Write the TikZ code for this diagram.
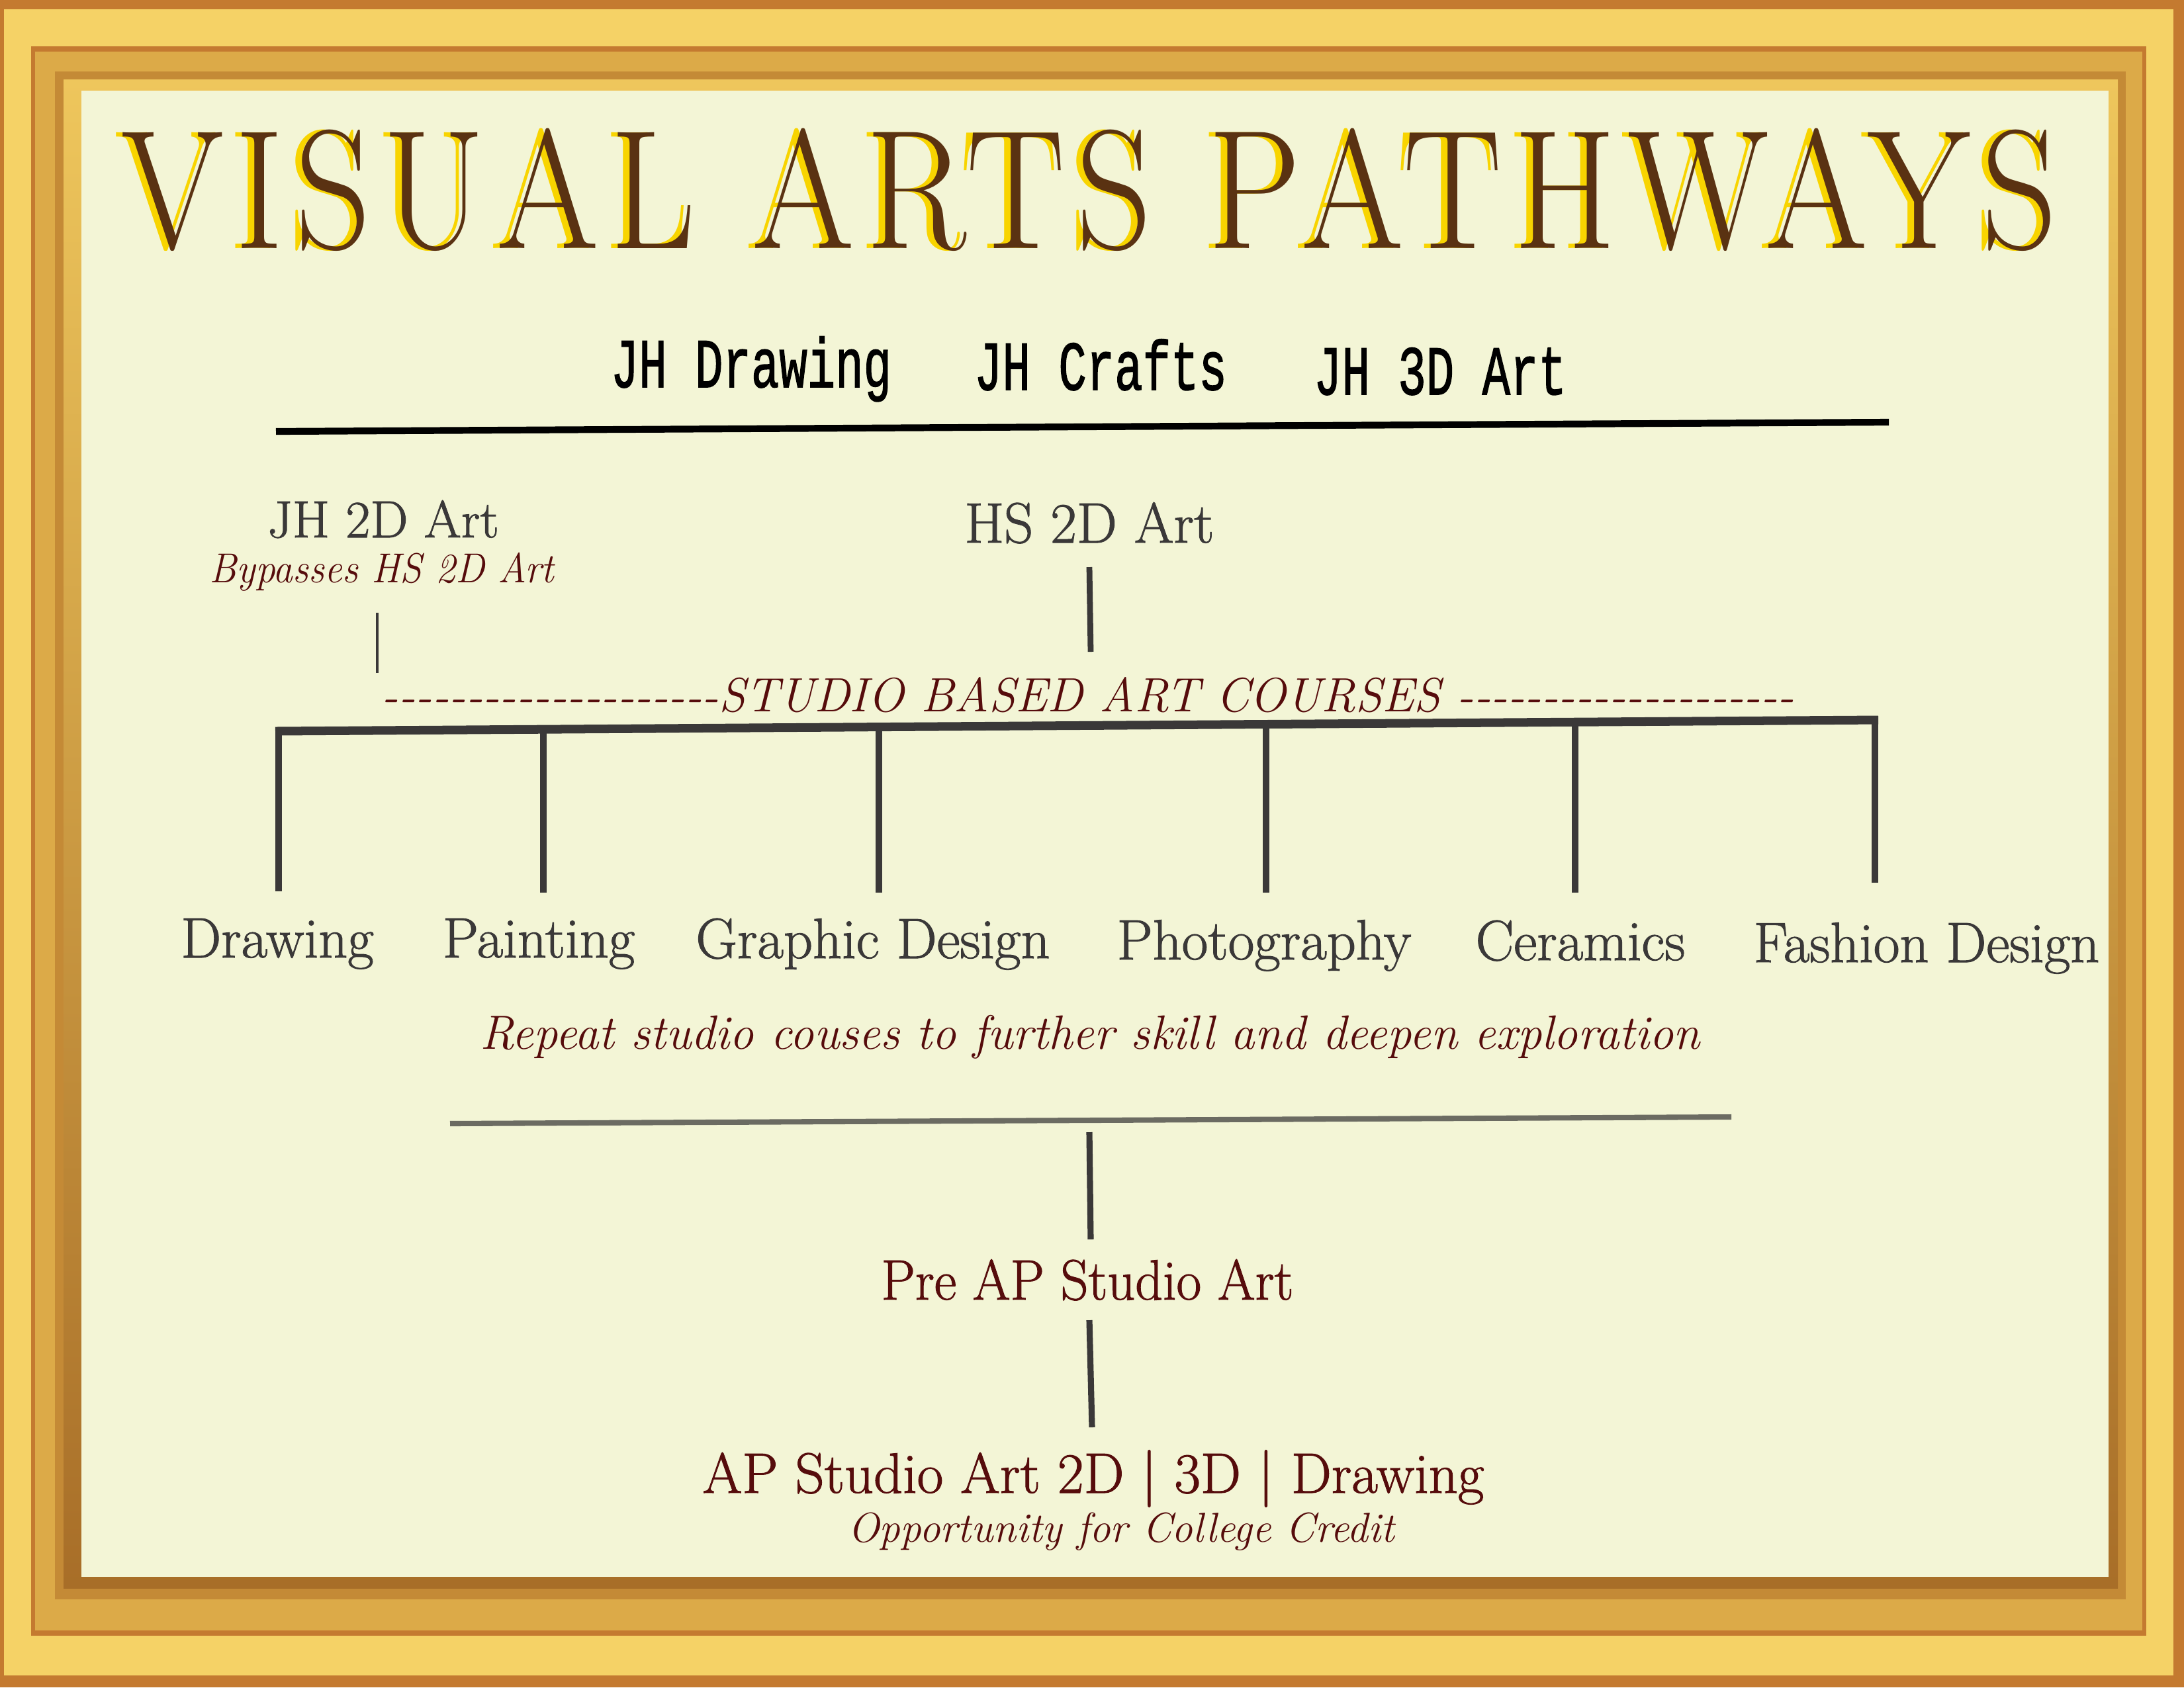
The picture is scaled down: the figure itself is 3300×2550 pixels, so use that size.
\documentclass[tikz,border=0pt]{standalone}
\usepackage{fontspec}
\newfontfamily\monofont[FakeBold=1.6]{Liberation Mono}
\newfontfamily\labelfont[FakeBold=1.2]{Latin Modern Roman}
\newfontfamily\headfont[LetterSpace=7.8]{Latin Modern Roman}
\usetikzlibrary{positioning}

\definecolor{cream}{HTML}{F3F5D6}
\definecolor{frameedge}{HTML}{C47A30}
\definecolor{framelight}{HTML}{F5D266}
\definecolor{framemid}{HTML}{DCAA48}
\definecolor{framedark}{HTML}{C48A36}
\definecolor{framebevel}{HTML}{EEC65C}
\definecolor{framebottom}{HTML}{A86E28}
\definecolor{goldtext}{HTML}{F8D400}
\definecolor{titlebrown}{HTML}{5A3212}
\definecolor{inkgrey}{HTML}{3A3838}
\definecolor{inkred}{HTML}{560C0C}
\definecolor{linegrey}{HTML}{6B6B62}

\newcommand{\dashrun}{\foreach \n in {1,...,20}{-}}

\begin{document}
\begin{tikzpicture}[x=0.01cm, y=-0.01cm]
        \tikzstyle{every node}=[inner sep=0pt, anchor=base]
        \tikzstyle{heading}=[font=\headfont\fontsize{73}{75}\selectfont, xscale=0.87]
        \tikzstyle{jh}=[font=\monofont\fontsize{30}{32}\selectfont, xscale=0.67]
        \tikzstyle{course}=[text=inkgrey, font=\labelfont\fontsize{24.5}{26}\selectfont]
        \tikzstyle{note}=[text=inkred, font=\itshape\fontsize{18}{20}\selectfont]
        \tikzstyle{branch}=[draw=inkgrey, line width=2.6pt]

        \useasboundingbox (0,0) rectangle (3300,2550);

        % gold frame
        \foreach \xa/\ya/\xb/\yb/\col in {0/0/3300/2550/frameedge, 6/14/3284/2532/framelight, 47/70/3243/2472/frameedge, 53/78/3237/2464/framemid, 83/108/3212/2417/framedark}
            \fill[\col] (\xa,\ya) rectangle (\xb,\yb);
        \shade[top color=framebevel, bottom color=framebottom] (96,120) rectangle (3200,2400);
        \fill[cream] (123,137) rectangle (3186,2383);

        % title
        \node (title shade) [heading, text=goldtext] at (1636,375) {VISUAL ARTS PATHWAYS};
        \node (title) [heading, text=titlebrown] at (1646,375) {VISUAL ARTS PATHWAYS};

        % junior high row
        \node (jh drawing) [jh] at (1135,585) {JH Drawing};
        \node (jh crafts) [jh] at (1663,589) {JH Crafts};
        \node (jh 3d) [jh] at (2176,596) {JH 3D Art};

        \coordinate (top west) at (417,652);
        \coordinate (top east) at (2854,638);
        \draw[black, line width=2.9pt] (top west) -- (top east);

        % 2D entry points
        \node (jh 2d) [course, font=\labelfont\fontsize{22.5}{24}\selectfont, xscale=1.02] at (579,812) {JH 2D Art};
        \node (bypass) [note, xscale=0.94] at (577,880) {Bypasses HS 2D Art};
        \node (hs 2d) [course] at (1646,820) {HS 2D Art};

        \coordinate (tick a top) at (570,926);
        \coordinate (tick a bottom) at (570,1017);
        \draw[inkgrey, line width=1.4pt] (tick a top) -- (tick a bottom);
        \coordinate (tick b top) at (1646,857);
        \coordinate (tick b bottom) at (1648,985);
        \draw[inkgrey, line width=2.5pt] (tick b top) -- (tick b bottom);

        \node (studio) [note, font=\itshape\fontsize{20.7}{22}\selectfont] at (1644,1075) {\dashrun STUDIO BASED ART COURSES \dashrun};

        % studio courses
        \coordinate (bar west) at (416,1105);
        \coordinate (bar east) at (2838,1088);
        \draw[branch, line width=3.7pt] (bar west) -- (bar east);
        \foreach \n/\xx/\ytop/\ybot in {1/421/1105/1347, 2/821/1102/1349, 3/1328/1099/1349, 4/1913/1094/1349, 5/2380/1091/1349, 6/2833/1088/1334} {
            \coordinate (bar \n) at (\xx,\ytop);
            \coordinate (drop \n) at (\xx,\ybot);
            \draw[branch] (bar \n) -- (drop \n);
        }

        \node (drawing) [course] at (419,1447) {Drawing};
        \node (painting) [course] at (814,1447) {Painting};
        \node (graphic) [course] at (1319,1448) {Graphic Design};
        \node (photo) [course] at (1910,1450) {Photography};
        \node (ceramics) [course] at (2388,1451) {Ceramics};
        \node (fashion) [course] at (2911,1454) {Fashion Design};

        \node (repeat) [note, font=\itshape\fontsize{20.7}{22}\selectfont] at (1647,1585) {Repeat studio couses to further skill and deepen exploration};

        % advanced placement
        \coordinate (low west) at (680,1698);
        \coordinate (low east) at (2616,1688);
        \draw[linegrey, line width=2.3pt] (low west) -- (low east);

        \coordinate (pre top) at (1646,1711);
        \coordinate (pre bottom) at (1648,1873);
        \draw[branch] (pre top) -- (pre bottom);
        \node (pre ap) [course, text=inkred, xscale=0.95] at (1643,1964) {Pre AP Studio Art};

        \coordinate (ap top) at (1646,1995);
        \coordinate (ap bottom) at (1650,2157);
        \draw[branch] (ap top) -- (ap bottom);
        \node (ap) [course, text=inkred] at (1652,2256) {AP Studio Art 2D | 3D | Drawing};
        \node (credit) [note] at (1694,2330) {Opportunity for College Credit};

\end{tikzpicture}
\end{document}
